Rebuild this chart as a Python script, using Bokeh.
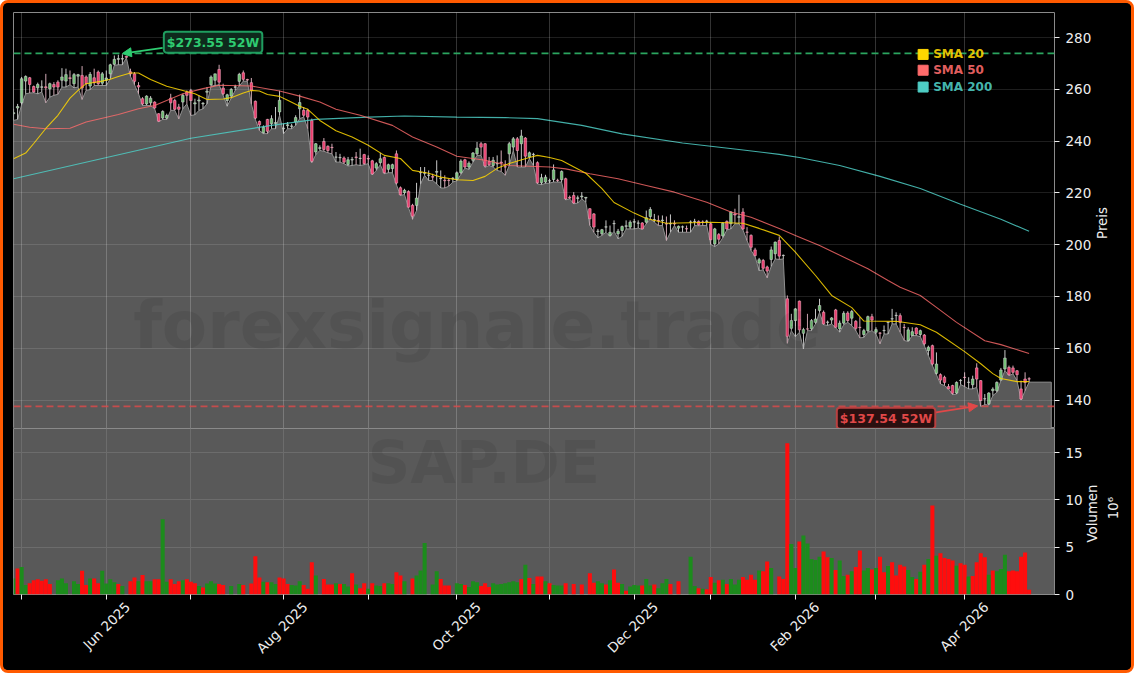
import math

from bokeh.embed import file_html
from bokeh.layouts import column
from bokeh.models import Arrow, FixedTicker, Label, NormalHead, Range1d, Span
from bokeh.plotting import figure
from bokeh.resources import INLINE

OPEN = [
250.6,252.8,254.8,263.2,264.5,261.1,260.6,260.8,261.0,260.2,
261.9,262.8,263.5,263.2,264.5,262.2,265.1,265.4,264.8,261.3,
264.5,266.7,262.4,263.5,266.0,269.7,271.6,271.7,272.8,266.8,
266.0,261.5,256.4,254.4,254.8,255.1,250.6,248.9,248.9,256.6,
255.7,253.2,255.1,259.0,259.6,254.4,255.5,254.4,258.9,261.8,
263.5,267.7,260.5,255.7,257.4,260.8,263.1,266.4,263.8,262.6,
255.4,247.6,243.2,248.4,246.7,246.8,251.3,244.8,246.0,245.7,
247.4,252.5,251.9,251.9,248.0,235.8,237.2,239.9,238.0,237.6,
233.8,233.6,233.5,231.0,232.7,233.9,233.3,234.8,233.3,232.4,
229.6,231.7,233.7,229.1,229.4,235.1,222.0,220.1,220.6,215.2,
215.2,227.8,227.6,226.8,226.3,228.0,225.5,224.9,224.9,225.5,
225.2,227.8,232.8,230.0,232.6,235.1,239.0,239.0,232.2,230.6,
231.2,231.9,230.1,235.1,237.7,240.9,239.0,241.2,233.9,234.8,
231.7,223.9,224.2,224.6,225.2,224.9,225.1,225.5,218.3,219.0,
217.9,218.5,218.0,213.9,211.9,205.1,204.2,206.8,203.6,208.1,
204.2,205.5,207.1,206.8,208.7,208.3,208.4,208.7,210.9,209.6,
209.4,209.3,208.1,208.0,208.2,206.4,206.8,206.2,208.7,208.9,
209.0,208.8,209.0,208.1,200.3,203.9,203.4,209.0,208.1,211.9,
210.6,212.6,204.9,203.6,198.0,192.9,193.9,191.4,194.3,196.5,
201.6,195.8,179.1,167.7,170.7,178.2,165.8,167.5,167.5,170.0,
174.6,173.9,170.0,170.9,174.8,167.5,169.7,173.6,171.6,170.4,
168.1,165.3,166.8,172.2,166.2,165.9,166.8,170.0,171.3,172.6,
172.6,168.1,163.0,164.9,167.8,165.3,165.1,159.1,161.0,150.3,
149.8,148.8,145.2,145.6,142.7,147.5,148.8,146.8,145.9,152.4,
147.5,140.4,138.5,143.6,143.6,147.7,152.0,152.6,152.4,151.3,
144.3,148.1,148.2]

HIGH = [
252.5,254.4,264.8,265.4,264.8,261.5,262.6,263.5,266.0,262.6,
262.8,263.5,268.2,268.0,267.3,266.3,266.0,269.0,265.4,266.7,
268.0,267.3,266.7,267.3,269.9,273.1,273.4,273.55,273.0,268.0,
266.7,262.8,257.0,257.7,257.4,255.4,250.8,251.9,250.6,258.3,
256.4,254.4,258.3,259.6,260.2,256.4,257.7,255.1,260.9,265.4,
266.0,269.5,262.2,258.3,260.5,261.8,266.4,267.3,264.1,264.4,
255.7,248.0,246.1,248.6,250.0,253.2,259.5,246.7,247.4,246.7,
250.0,258.0,253.2,252.5,248.7,239.3,238.4,241.2,238.4,239.0,
235.8,235.1,234.1,233.9,233.9,235.8,237.1,235.1,234.5,232.8,
231.9,235.5,234.1,231.3,231.3,236.4,222.5,221.6,221.0,215.8,
223.9,230.0,230.0,228.7,227.4,232.6,228.7,226.8,225.5,226.1,
228.3,233.0,233.2,232.2,235.8,239.7,239.7,239.3,233.9,233.9,
234.5,236.4,232.6,239.7,241.6,241.6,244.4,241.6,236.0,235.5,
232.2,227.4,227.0,225.5,231.0,225.5,228.7,225.9,219.0,220.3,
219.0,220.3,218.4,214.1,212.2,206.1,206.1,209.4,207.4,209.4,
206.1,207.4,209.4,209.4,210.0,209.4,208.7,213.2,214.5,211.9,
211.3,211.3,210.9,211.7,209.4,207.4,207.4,207.4,209.4,210.0,
209.4,209.4,209.6,208.4,206.5,204.5,208.7,209.4,213.0,213.9,
219.3,214.1,206.8,204.0,198.8,194.9,194.5,191.9,199.3,201.2,
203.2,196.2,180.4,173.3,175.5,178.4,167.9,173.3,171.3,175.2,
179.1,174.6,170.7,172.0,175.2,170.7,174.3,174.3,174.8,170.9,
172.0,167.5,172.6,173.3,168.1,166.2,168.8,170.1,175.2,173.9,
173.5,169.4,168.1,168.1,168.1,167.2,165.5,161.0,161.4,158.4,
150.3,149.4,146.2,145.9,147.2,148.1,150.7,148.8,149.4,154.2,
147.7,142.3,143.0,144.9,147.2,152.4,159.3,153.3,153.3,151.6,
147.5,150.7,148.8]

LOW = [
248.0,248.4,254.1,258.3,258.6,258.7,258.3,259.0,254.8,257.0,
257.7,258.1,260.9,260.9,261.8,260.6,260.9,256.1,259.6,259.9,
261.5,261.5,261.5,261.5,264.1,269.3,269.5,269.5,272.2,265.0,
261.8,258.3,253.8,253.8,253.8,252.5,247.5,248.4,248.4,251.9,
251.9,248.6,252.5,254.4,249.9,250.2,251.9,252.5,254.4,261.3,
261.5,261.8,257.7,253.5,256.6,259.6,261.3,263.2,263.1,254.4,
248.4,244.1,242.9,242.9,244.8,244.8,250.0,242.9,244.8,244.8,
246.1,248.7,249.3,244.8,231.7,234.8,236.4,236.1,235.5,235.1,
231.9,231.9,231.3,230.4,230.6,230.9,230.6,230.9,231.3,227.0,
228.7,230.9,227.4,227.8,227.8,223.2,219.0,219.4,214.3,209.8,
213.2,223.5,226.8,224.8,224.8,223.5,221.9,221.9,222.6,224.2,
224.7,227.2,229.6,229.1,231.9,234.5,234.5,229.9,230.6,230.0,
228.7,228.3,226.8,230.6,236.4,230.0,230.0,230.0,233.2,230.6,
223.5,223.2,223.7,223.8,224.2,224.2,224.2,217.3,217.7,215.8,
216.1,217.7,216.4,207.4,204.8,202.7,203.6,204.8,203.2,205.2,
202.3,203.2,206.1,206.1,206.1,206.4,205.9,208.1,210.0,208.7,
207.4,207.4,201.6,204.8,207.4,204.8,204.8,204.8,204.8,207.4,
207.3,207.4,207.4,200.1,199.3,200.3,202.7,205.7,206.1,208.1,
208.1,205.7,201.6,197.8,195.4,190.0,190.3,187.2,191.6,194.5,
194.3,194.5,161.9,166.8,164.5,166.2,159.7,166.8,166.8,169.4,
173.9,169.1,168.8,169.4,167.9,166.2,169.1,170.0,168.8,166.8,
164.0,164.2,166.2,166.8,165.5,161.7,165.5,165.5,169.4,169.4,
166.2,163.0,162.6,164.9,164.9,164.5,161.0,157.2,153.3,149.8,
146.2,145.6,144.3,142.1,142.3,146.0,145.2,144.3,144.3,144.9,
137.54,138.2,138.1,141.7,143.0,147.5,151.4,149.4,150.1,147.5,
140.0,143.6,146.9]

CLOSE = [
251.0,253.4,264.1,265.0,261.9,259.0,261.9,261.0,260.6,262.2,
260.9,260.9,264.8,265.7,264.2,265.7,265.7,260.5,262.2,265.8,
262.6,262.2,266.0,264.4,269.5,271.6,271.9,271.9,272.4,266.0,
263.1,260.9,254.4,257.4,256.6,252.8,247.7,251.5,249.9,254.8,
252.3,252.3,257.7,257.7,255.7,254.8,255.9,254.6,259.3,264.8,
266.0,262.8,258.3,257.9,260.0,261.0,265.8,263.9,263.6,259.6,
248.9,246.3,245.4,243.8,248.7,247.2,255.8,245.0,246.3,245.9,
249.1,254.9,250.0,249.3,232.2,239.0,237.5,236.8,236.4,237.5,
233.9,233.7,231.9,232.8,232.9,233.7,233.4,231.3,233.1,227.3,
231.3,233.2,227.8,230.9,230.9,223.8,219.3,221.0,214.5,211.0,
218.0,227.9,227.8,226.9,226.1,228.3,225.6,224.7,224.8,225.7,
227.8,232.3,230.0,231.5,235.4,237.3,237.7,230.4,230.9,232.6,
231.4,231.6,230.0,239.0,240.9,236.4,242.0,234.2,235.5,234.9,
223.9,225.9,226.1,224.7,228.9,224.8,228.3,217.7,218.0,216.1,
218.1,218.8,218.3,210.0,206.8,205.3,205.8,206.9,204.8,208.2,
205.2,207.0,207.3,208.7,208.9,208.4,206.1,210.4,213.6,209.7,
209.3,209.5,208.0,208.2,208.0,207.1,206.9,206.1,208.8,209.0,
207.7,208.7,209.1,201.9,206.1,202.1,208.3,206.1,212.6,211.5,
210.8,206.1,204.8,199.0,195.8,194.2,190.9,189.8,198.0,201.0,
195.6,195.9,164.6,170.7,175.2,167.1,167.2,167.4,170.7,171.3,
176.5,169.4,170.1,171.7,168.1,169.7,173.5,170.7,174.2,167.7,
168.0,166.8,172.2,170.9,167.2,165.8,166.9,170.1,171.4,172.7,
170.0,168.0,167.1,166.4,165.5,166.8,161.7,160.4,153.9,153.9,
147.7,146.8,144.3,142.6,146.8,147.6,148.7,146.9,148.1,148.1,
139.8,140.5,142.7,144.2,146.8,151.6,156.2,149.8,150.7,149.8,
140.4,146.8,148.1]

VOLUME = [
1.7,2.75,2.9,1.0,1.2,1.5,1.6,1.45,1.6,1.1,
0,1.5,1.7,1.2,0,1.4,1.1,2.5,1.0,1.7,
1.7,1.2,2.5,1.15,1.6,1.3,1.1,0.9,0,1.4,
1.8,1.4,2.05,1.4,1.4,1.6,1.6,7.95,1.35,1.6,
1.1,1.4,1.5,1.6,1.35,1.2,0.9,0.75,1.15,1.4,
1.15,1.1,1.0,0,0.9,0,1.1,1.0,0,1.15,
4.05,1.8,1.35,1.3,1.3,1.1,1.8,1.7,1.1,1.0,
0.95,1.4,1.0,0.6,3.4,2.0,0,1.65,1.05,1.05,
1.2,1.1,1.1,0.85,2.25,1.05,0.65,1.2,0.6,1.2,
0.95,0.9,1.2,1.2,1.1,2.35,2.0,1.4,0,1.7,
2.0,2.55,5.45,0,1.05,2.45,1.65,0.95,0.95,0,
1.2,1.1,1.0,0.8,1.4,1.3,0.9,1.2,0.8,1.2,
1.05,1.1,1.2,1.3,1.4,1.3,1.65,3.15,1.75,1.1,
1.9,1.9,1.4,1.2,1.0,0.95,0.95,1.2,0,1.1,
0,1.05,0,2.25,1.25,1.4,1.2,1.05,1.5,2.65,
1.25,1.1,0.4,0.85,1.0,0.95,0.95,1.65,0.95,1.05,
0.65,1.2,1.65,1.1,0,1.4,0,0,4.0,0.9,
0.65,0.6,0.55,1.85,1.25,1.5,1.55,1.1,1.65,1.05,
1.55,1.85,1.55,2.1,1.55,2.55,2.45,3.5,2.8,0,
1.9,1.65,16.0,5.35,2.8,5.6,6.25,5.4,3.75,3.65,
4.0,4.55,3.95,3.85,2.6,3.6,1.95,2.1,2.45,2.9,
4.65,2.55,2.8,2.65,2.8,4.0,2.35,3.0,3.4,2.0,
3.15,2.95,2.6,1.85,1.65,2.4,3.15,3.75,9.4,4.1,
4.35,3.85,3.75,3.6,3.05,3.3,3.15,1.9,1.95,3.4,
4.35,3.95,2.1,2.55,2.45,2.7,4.2,2.45,2.55,2.45,
4.0,4.45,0.5]

VOL_DIR = ("GRGGRRRRRR" "RGGGGGGRRG" "RRGGGGRGGR" "RGRGGRRGGR" "RRGRRRGRGG"
           "GRRGGGGRRR" "RRGRGGRRRG" "GGRRRGGRRR" "GRGGRGRRGR" "GGRGGRRGGR"
           "GGGGGGRRRR" "GGRGGGRRRG" "GGGGGGRGRG" "RRGRGGGRRR" "RRRRRGGRGR"
           "RGRGGGRGGR" "GGGRRRRRGG" "RGRRGRGRGG" "GRRRRGRRGR" "RRRGGRGGGG"
           "GRRGRGGRGR" "RGGRGRRGRR" "RRGGRGRGRG" "RRRRGRRGRR" "RRGRGGGRRR" "RRR")

SMA20_X = [0,3,5,8,11,14,16,18,22,24,26,29,31,34,38,42,45,48,52,54,57,59,61,63,66,68,71,73,76,80,84,88,92,96,99,103,106,110,114,117,120,123,128,130,133,136,142,146,149,154,157,162,168,173,181,185,190,194,199,203,208,211,219,225,229,236,240,243,245,249,252]
SMA20_Y = [233.2,235.4,239.1,244.9,250.0,256.6,259.6,262.2,263.2,263.9,265.0,266.3,266.3,263.8,261.2,259.6,258.3,256.1,256.3,256.8,258.6,259.6,259.4,258.0,257.3,255.8,253.5,252.3,248.0,244.0,241.6,238.4,234.5,233.3,228.7,227.6,226.1,225.1,224.8,226.4,229.5,231.4,233.7,234.5,233.7,232.5,227.6,221.7,216.3,212.2,210.1,208.3,208.5,208.7,208.3,206.3,203.6,197.1,188.1,180.4,175.7,170.5,170.4,169.1,166.2,158.7,154.0,150.2,148.3,147.1,147.1]
SMA50_X = [0,4,8,14,18,26,31,35,42,47,51,59,66,71,76,80,86,94,99,105,110,117,123,133,137,143,150,157,164,172,178,183,190,194,200,212,217,220,225,229,234,241,245,252]
SMA50_Y = [246.5,245.4,244.8,245.0,247.4,250.3,252.5,253.8,258.3,260.3,261.6,261.3,259.4,257.4,255.1,252.3,250.0,246.1,241.6,237.7,234.2,232.6,230.6,230.0,229.3,227.4,225.5,222.9,220.3,216.4,212.6,210.6,206.3,203.6,199.7,190.7,186.2,183.6,180.4,175.8,170.0,162.9,161.4,158.0]
SMA200_X = [0,22,44,64,75,88,97,110,122,130,141,151,166,180,190,195,205,215,225,235,245,252]
SMA200_Y = [225.5,233.3,241.1,246.1,248.4,249.3,249.7,249.3,249.1,248.7,246.1,242.8,239.3,236.8,234.9,233.7,230.6,226.4,221.7,215.6,209.8,205.2]

TICK_IDX = [2, 23, 44, 67, 88, 110, 133, 154, 173, 194, 214, 236]
DATE_TICKS = [23, 67, 110, 154, 194, 236]
DATE_TEXTS = ["Jun 2025", "Aug 2025", "Oct 2025", "Dec 2025", "Feb 2026", "Apr 2026"]
PRICE_TICKS = [140, 160, 180, 200, 220, 240, 260, 280]
VOLUME_TICKS = [0, 5, 10, 15]
HIGH_52W = 273.55
LOW_52W = 137.54
FILL_END = 257.5

n = len(CLOSE)
idx = list(range(n))
xr = Range1d(-0.02, 258.3)
pr = Range1d(129.0, 289.7)
vr = Range1d(0, 17.55)

BORDER = "#FF5A00"
BG = "black"
INK = "#eeeeee"
LABEL_SHIFT = 5.3  # Bokeh ends rotated tick labels at the tick; move them so they centre on it


def style_axis(ax):
    ax.axis_line_color = None
    ax.major_tick_line_color = INK
    ax.major_tick_out = 5
    ax.major_tick_in = 0
    ax.minor_tick_line_color = None
    ax.major_label_text_color = INK
    ax.major_label_text_font = "DejaVu Sans"
    ax.major_label_text_font_size = "13.5px"
    ax.major_label_standoff = 6


p1 = figure(width=1128, height=425, x_range=xr, y_range=pr, output_backend="svg",
            toolbar_location=None, y_axis_location="right", min_border_left=10,
            min_border_right=77, min_border_top=9, min_border_bottom=0,
            background_fill_color=BG, border_fill_color=BG)
p1.xaxis.visible = False
p1.yaxis.ticker = FixedTicker(ticks=PRICE_TICKS)
style_axis(p1.yaxis[0])
p1.outline_line_color = "#8a8a8a"
p1.xgrid.ticker = FixedTicker(ticks=TICK_IDX)
p1.xgrid.grid_line_color = "white"
p1.xgrid.grid_line_alpha = 0.25
p1.xgrid.grid_line_width = 0.8
p1.ygrid.grid_line_color = "white"
p1.ygrid.grid_line_alpha = 0.15
p1.ygrid.grid_line_width = 0.8
p1.xgrid.level = "guide"
p1.ygrid.level = "guide"

fill_x = [0] + idx + [FILL_END, FILL_END]
fill_y = [pr.start] + LOW + [LOW[-1], pr.start]
p1.patch(fill_x, fill_y, fill_color="#595959", line_color="#909090", line_width=1.0)

up = [c >= o for o, c in zip(OPEN, CLOSE)]
wick_col = ["#c8c8c8" if u else "#d2aab6" for u in up]
body_col = ["#6cc070" if u else "#ea3d6e" for u in up]
edge_col = ["#d0d0d0" if u else "#efa6bb" for u in up]
p1.segment(idx, HIGH, idx, LOW, line_color=wick_col, line_width=1)
p1.vbar(x=idx, width=0.62, top=[max(a, b) for a, b in zip(OPEN, CLOSE)],
        bottom=[min(a, b) for a, b in zip(OPEN, CLOSE)],
        fill_color=body_col, line_color=edge_col, line_width=0.6)

p1.line(SMA200_X, SMA200_Y, line_color="#4ECDC4", line_alpha=0.85, line_width=1.1)
p1.line(SMA50_X, SMA50_Y, line_color="#FF6B6B", line_alpha=0.8, line_width=1.1)
p1.line(SMA20_X, SMA20_Y, line_color="#FFD700", line_alpha=0.85, line_width=1.1)

p1.add_layout(Span(location=273.9, dimension="width", line_color="#2BA55F", line_dash=[7, 4], line_width=1.8, level="guide"))
p1.add_layout(Span(location=LOW_52W, dimension="width", line_color="#E04848", line_alpha=0.8, line_dash=[7, 4], line_width=1.8, level="guide"))

p1.add_layout(Label(x=115, y=168.75, text="forexsignale.trade", text_font="DejaVu Sans", text_font_style="bold",
                    text_font_size="66px", text_color="black", text_alpha=0.08, text_align="center", text_baseline="middle"))

p1.add_layout(Arrow(end=NormalHead(size=9, fill_color="#2ECC71", line_color="#2ECC71"),
                    x_start=37, y_start=276.05, x_end=27, y_end=HIGH_52W + 0.3, line_color="#2ECC71", line_width=1.8))
p1.add_layout(Arrow(end=NormalHead(size=9, fill_color="#E04848", line_color="#E04848"),
                    x_start=228.5, y_start=135.1, x_end=239.2, y_end=LOW_52W + 0.2, line_color="#E04848", line_width=1.8))
p1.add_layout(Label(x=49.5, y=278.2, text=f"${HIGH_52W:.2f} 52W", text_font="DejaVu Sans", text_font_style="bold",
                    text_font_size="12.5px", text_color="#2ECC71", text_align="center", text_baseline="middle",
                    background_fill_color="#0E2A1C", border_line_color="#1F9D5F", border_line_width=2,
                    padding=3, border_radius=3))
p1.add_layout(Label(x=216.5, y=133.0, text=f"${LOW_52W:.2f} 52W", text_font="DejaVu Sans", text_font_style="bold",
                    text_font_size="12.5px", text_color="#E04848", text_align="center", text_baseline="middle",
                    background_fill_color="#2A1010", border_line_color="#B94040", border_line_width=2,
                    padding=3, border_radius=3))

for name, col, yy in [("SMA 20", "#FFD700", 273.5), ("SMA 50", "#FF6B6B", 267.4), ("SMA 200", "#4ECDC4", 260.9)]:
    p1.scatter([225.7], [yy], marker="square", size=10, fill_color=col, line_color=col, level="annotation")
    p1.add_layout(Label(x=228.2, y=yy, text=name, text_font="DejaVu Sans", text_font_style="bold",
                        text_font_size="12px", text_color=col, text_alpha=0.9, text_baseline="middle"))

p2 = figure(width=1128, height=242, x_range=xr, y_range=vr, output_backend="svg",
            toolbar_location=None, y_axis_location="right", min_border_left=10,
            min_border_right=77, min_border_top=0, min_border_bottom=76,
            background_fill_color="#595959", border_fill_color=BG)
shifted = [t + LABEL_SHIFT for t in DATE_TICKS]
p2.xaxis.ticker = FixedTicker(ticks=shifted, minor_ticks=TICK_IDX)
p2.yaxis.ticker = FixedTicker(ticks=VOLUME_TICKS)
style_axis(p2.xaxis[0])
style_axis(p2.yaxis[0])
p2.xaxis.major_tick_line_color = None
p2.xaxis.minor_tick_line_color = INK
p2.xaxis.minor_tick_out = 5
p2.xaxis.minor_tick_in = 0
p2.xaxis.major_tick_out = 5
p2.xaxis.major_label_orientation = math.pi / 4
p2.xaxis.major_label_text_font_size = "13.5px"
p2.xaxis.major_label_standoff = 5
p2.xaxis.major_label_overrides = dict(zip(shifted, DATE_TEXTS))
p2.outline_line_color = "#8a8a8a"
p2.xgrid.ticker = FixedTicker(ticks=TICK_IDX)
p2.xgrid.grid_line_color = "#6c6c6c"
p2.ygrid.grid_line_color = "#6c6c6c"

vol_col = ["#FF0D0D" if d == "R" else "#1C8C1C" for d in VOL_DIR]
p2.vbar(x=idx, width=1.0, top=VOLUME, bottom=0, fill_color=vol_col, line_color=None)

p2.add_layout(Label(x=116.7, y=13.95, text="SAP.DE", text_font="DejaVu Sans", text_font_style="bold",
                    text_font_size="59px", text_color="black", text_alpha=0.08, text_align="center", text_baseline="middle"))

root = column(p1, p2, width=1134, height=673, spacing=0,
              styles={"position": "absolute", "left": "0px", "top": "0px", "background": BG,
                      "border": f"3px solid {BORDER}", "border-radius": "8px", "overflow": "hidden"})

# The axis titles sit in a transparent strip over the right margin: Bokeh cannot
# centre a right-hand axis title that reads upwards, and clips annotations to the frame.
titles = figure(width=50, height=600, x_range=Range1d(0, 50), y_range=Range1d(600, 0),
                x_axis_location=None, y_axis_location=None, output_backend="svg", toolbar_location=None,
                min_border=0, background_fill_color=None, border_fill_color=None, outline_line_color=None,
                styles={"position": "absolute", "left": "1080px", "top": "0px"})
titles.grid.visible = False
for text, tx, ty in [("Preis", 22, 222.5), ("Volumen", 12, 513), ("10⁶", 33, 507.5)]:
    titles.add_layout(Label(x=tx, y=ty, text=text, text_font="DejaVu Sans", text_font_size="13.3px", text_color=INK,
                            angle=90, angle_units="deg", text_align="center", text_baseline="middle"))

open("out.html", "w").write(file_html([root, titles], INLINE))
